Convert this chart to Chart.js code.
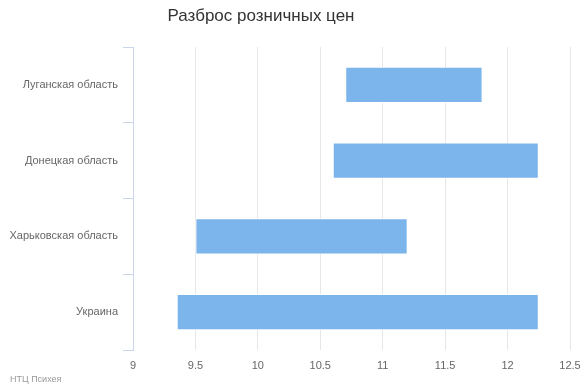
<!DOCTYPE html>
<html>
<head>
<meta charset="utf-8">
<script src="https://cdn.jsdelivr.net/npm/chart.js@4"></script>
<style>
  html, body { margin: 0; padding: 0; background: #fff; }
  #wrap { position: relative; width: 580px; height: 387px; }
  #title {
    position: absolute; top: 6px; left: 261px; transform: translateX(-50%);
    font-family: "Liberation Sans", sans-serif; font-size: 17px; color: #333333; white-space: nowrap;
  }
  #credits {
    position: absolute; left: 10px; top: 374px;
    font-family: "Liberation Sans", sans-serif; font-size: 9px; color: #999999;
  }
</style>
</head>
<body>
<div id="wrap">
  <canvas id="chart" width="580" height="387"></canvas>
  <div id="title">Разброс розничных цен</div>
  <div id="credits">НТЦ Психея</div>
</div>
<script>
// данные
const regions = ["Луганская область", "Донецкая область", "Харьковская область", "Украина"];
const minPrice = [10.7, 10.6, 9.5, 9.35];
const maxPrice = [11.8, 12.25, 11.2, 12.25];
const xTicks = [9, 9.5, 10, 10.5, 11, 11.5, 12, 12.5];

const ctx = document.getElementById('chart').getContext('2d');

new Chart(ctx, {
  type: 'bar',
  data: {
    labels: regions,
    datasets: [{
      label: 'Цена',
      data: regions.map((r, i) => [minPrice[i], maxPrice[i]]),
      backgroundColor: '#7cb5ec',
      borderColor: '#ffffff',
      borderWidth: 1,
      borderSkipped: false,
      barPercentage: 0.48,
      categoryPercentage: 1
    }]
  },
  options: {
    indexAxis: 'y',
    responsive: false,
    animation: false,
    layout: { padding: { left: 0, right: 10, top: 47, bottom: 0 } },
    plugins: {
      legend: { display: false },
      tooltip: { enabled: false }
    },
    scales: {
      y: {
        afterFit: (scale) => { scale.width = 133; },
        grid: {
          drawOnChartArea: false,
          drawTicks: true,
          tickLength: 10,
          color: '#ccd6eb',
          offset: true
        },
        border: { display: true, color: '#ccd6eb', width: 1 },
        ticks: {
          color: '#666666',
          padding: 5,
          font: { family: '"Liberation Sans", sans-serif', size: 11 }
        }
      },
      x: {
        min: xTicks[0],
        max: xTicks[xTicks.length - 1],
        afterFit: (scale) => {
          scale.height = 37;
          scale.paddingLeft = 0;
          scale.paddingRight = 0;
        },
        afterBuildTicks: (scale) => { scale.ticks = xTicks.map(v => ({ value: v })); },
        grid: {
          color: '#e6e6e6',
          drawTicks: false
        },
        border: { display: false },
        ticks: {
          color: '#666666',
          padding: 9,
          font: { family: '"Liberation Sans", sans-serif', size: 11 },
          callback: (v) => String(v)
        }
      }
    }
  }
});
</script>
</body>
</html>
